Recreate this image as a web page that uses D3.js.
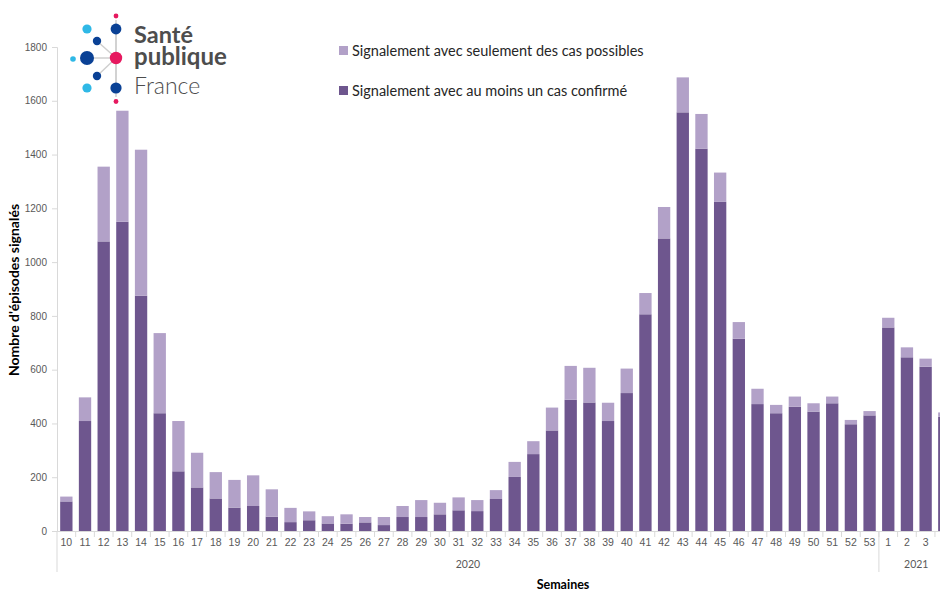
<!DOCTYPE html>
<html>
<head>
<meta charset="utf-8">
<script src="https://cdn.jsdelivr.net/npm/d3@7"></script>
<style>
  html, body { margin: 0; padding: 0; background: #fff; }
  svg { display: block; font-family: Lato, "Open Sans", "Liberation Sans", sans-serif; }
</style>
</head>
<body>
<svg id="chart" width="940" height="592"></svg>
<script>
// ---- data ----
const weeks = ["10","11","12","13","14","15","16","17","18","19","20","21","22","23","24","25","26","27","28","29","30","31","32","33","34","35","36","37","38","39","40","41","42","43","44","45","46","47","48","49","50","51","52","53","1","2","3","4"];
const confirmed = [110,409,1077,1150,875,438,222,162,121,87,93,53,33,40,28,27,32,22,52,52,62,77,74,119,201,286,374,488,478,409,513,806,1088,1557,1422,1224,715,472,438,462,444,475,397,430,757,646,611,425];
const possible = [18,88,278,413,543,298,187,129,98,103,114,102,53,33,27,35,20,30,41,63,43,48,41,33,56,48,85,126,129,68,91,79,117,130,129,109,62,57,31,38,31,25,16,16,36,37,30,16];
const yearLabels = ["2020", "2021"];
const yearFirstWeek = ["10", "1"];
const yearLastWeek = ["53", "4"];
const seriesNames = ["Signalement avec au moins un cas confirmé", "Signalement avec seulement des cas possibles"];
const yTicks = [0,200,400,600,800,1000,1200,1400,1600,1800];

// ---- setup ----
const W = 940;
const svg = d3.select("#chart");
const colConfirmed = "#6e568e";
const colPossible = "#b2a1c8";

const x = d3.scaleBand().domain(weeks).range([57, 57 + weeks.length * 18.68]).paddingInner(0.34).paddingOuter(0.17);
const y = d3.scaleLinear().domain([0, 1800]).range([531, 47]);

const rows = weeks.map((w, i) => ({week: w, confirmed: confirmed[i], possible: possible[i]}));
const stack = d3.stack().keys(["confirmed", "possible"])(rows);
const colors = {confirmed: colConfirmed, possible: colPossible};

// bars
svg.append("g").selectAll("g").data(stack).join("g")
  .attr("fill", d => colors[d.key])
  .selectAll("rect").data(d => d).join("rect")
  .attr("x", d => x(d.data.week))
  .attr("width", x.bandwidth())
  .attr("y", d => y(d[1]))
  .attr("height", d => y(d[0]) - y(d[1]));

// y axis
const yAxis = svg.append("g").attr("transform", "translate(57,0)")
  .call(d3.axisLeft(y).tickValues(yTicks).tickFormat(d3.format("d")).tickSize(5).tickPadding(5));
yAxis.select(".domain").attr("stroke", "#d9d9d9");
yAxis.selectAll(".tick line").attr("stroke", "#d9d9d9");
yAxis.selectAll(".tick text").attr("fill", "#595959").style("font-size", "10px")
  .style("font-family", "'Liberation Sans', Arial, sans-serif");

// x axis
const xAxis = svg.append("g").attr("transform", "translate(0,531)")
  .call(d3.axisBottom(x).tickSize(0).tickPadding(8));
xAxis.select(".domain").attr("stroke", "#d9d9d9");
xAxis.selectAll(".tick text").attr("fill", "#595959").style("font-size", "10.5px");
// labels that fall outside the visible picture are not shown
xAxis.selectAll(".tick").filter(d => x(d) + x.bandwidth() / 2 + 4 > W).remove();

// tick marks between categories
svg.append("g").selectAll("line").data(weeks.slice(1)).join("line")
  .attr("x1", d => x(d) - x.step() * x.paddingInner() / 2)
  .attr("x2", d => x(d) - x.step() * x.paddingInner() / 2)
  .attr("y1", 531).attr("y2", 537)
  .attr("stroke", "#d9d9d9");

// year group separators and labels
const groupLeft = w => x(w) - x.step() * x.paddingInner() / 2;
const groupRight = w => x(w) + x.bandwidth() + x.step() * x.paddingInner() / 2;
svg.append("g").selectAll("line").data(yearFirstWeek).join("line")
  .attr("x1", d => groupLeft(d)).attr("x2", d => groupLeft(d))
  .attr("y1", 531).attr("y2", 572)
  .attr("stroke", "#d9d9d9");
svg.append("g").selectAll("text").data(yearLabels).join("text")
  .attr("x", (d, i) => (groupLeft(yearFirstWeek[i]) + groupRight(yearLastWeek[i])) / 2)
  .attr("y", 568)
  .attr("text-anchor", "middle")
  .attr("fill", "#595959")
  .style("font-size", "10.5px")
  .text(d => d);

// axis titles
svg.append("text")
  .attr("x", 563).attr("y", 589)
  .attr("text-anchor", "middle")
  .style("font-size", "12.5px").style("font-weight", "bold")
  .attr("fill", "#000")
  .text("Semaines");
svg.append("text")
  .attr("transform", "translate(19,290) rotate(-90)")
  .attr("text-anchor", "middle")
  .style("font-size", "14px").style("font-weight", "bold")
  .attr("fill", "#000")
  .text("Nombre d'épisodes signalés");

// legend
const legendItems = [
  {name: seriesNames[1], color: colPossible, y: 51},
  {name: seriesNames[0], color: colConfirmed, y: 91}
];
const lg = svg.append("g").selectAll("g").data(legendItems).join("g");
lg.append("rect").attr("x", 339).attr("y", d => d.y - 5).attr("width", 9).attr("height", 9).attr("fill", d => d.color);
lg.append("text").attr("x", 352).attr("y", d => d.y + 5)
  .style("font-size", "14.5px").attr("fill", "#262626")
  .text(d => d.name);

// logo (Santé publique France)
const logo = svg.append("g");
const hub = [116, 58];
const spokes = [[116,29],[116,88],[87,58],[97,41],[97,76]];
logo.selectAll("line").data(spokes).join("line")
  .attr("x1", hub[0]).attr("y1", hub[1])
  .attr("x2", d => d[0]).attr("y2", d => d[1])
  .attr("stroke", "#cfcfcf").attr("stroke-width", 1.5);
logo.append("line").attr("x1", 116).attr("y1", 20).attr("x2", 116).attr("y2", 97)
  .attr("stroke", "#cfcfcf").attr("stroke-width", 1.5);
const dots = [
  [116,16,2.4,"#e6195f"],[116,29,5.4,"#0a4195"],[87,29,4.6,"#2fb8e6"],
  [97,41,4.2,"#0a4195"],[87,58,7,"#0a4195"],[73,59,2.8,"#2fb8e6"],
  [116,58,6.2,"#e6195f"],[97,76,4.2,"#0a4195"],[87,88,4.6,"#2fb8e6"],
  [116,88,5.6,"#0a4195"],[116,101.5,2.4,"#e6195f"]
];
logo.selectAll("circle").data(dots).join("circle")
  .attr("cx", d => d[0]).attr("cy", d => d[1]).attr("r", d => d[2]).attr("fill", d => d[3]);
const logoText = logo.append("text").attr("x", 134).attr("y", 43)
  .style("font-size", "23px").attr("fill", "#4d4d4d");
logoText.append("tspan").attr("x", 134).attr("y", 43).style("font-weight", "bold").style("font-size", "23.5px").text("Santé");
logoText.append("tspan").attr("x", 134).attr("y", 65).style("font-weight", "bold").style("font-size", "24px").text("publique");
logoText.append("tspan").attr("x", 134).attr("y", 94).style("font-weight", "300").text("France");
</script>
</body>
</html>
